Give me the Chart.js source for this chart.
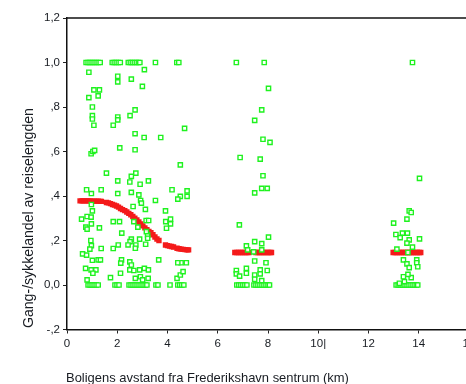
<!DOCTYPE html>
<html>
<head>
<meta charset="utf-8">
<script src="https://cdn.jsdelivr.net/npm/chart.js@4/dist/chart.umd.min.js"></script>
<style>
html,body{margin:0;padding:0;background:#fff;overflow:hidden;width:466px;height:384px;}
canvas{position:absolute;left:0;top:0;}
</style>
</head>
<body>
<canvas id="c" width="490" height="384"></canvas>
<script>
// ---- data ----
const yTickLabels = ['-,2', '0,0', ',2', ',4', ',6', ',8', '1,0', '1,2'];
const xTickLabels = ['0', '2', '4', '6', '8', '10|', '12', '14', '16'];
const xTitle = 'Boligens avstand fra Frederikshavn sentrum (km)';
const yTitle = 'Gang-/sykkelandel av reiselengden';

// observations with share = 1,0
const topRowX = [0.76,0.84,0.92,1.0,1.08,1.16,1.24,1.32,1.8,1.88,1.96,2.04,2.12,
  2.44,2.52,2.6,2.68,2.76,2.84,2.9,3.52,4.37,4.45,6.74,7.85,13.75];
// observations with share = 0,0
const zeroRowX = [0.84,0.92,1.0,1.08,1.16,1.24,1.91,1.99,2.07,2.47,2.55,2.63,2.71,2.79,
  2.87,2.95,3.03,3.11,3.18,3.54,3.62,4.1,4.41,4.49,4.57,4.65,6.76,6.84,6.92,7.0,7.08,7.16,
  7.44,7.52,7.6,7.68,7.76,7.84,7.92,8.0,8.06,13.1,13.18,13.26,13.34,13.42,13.5,13.58,
  13.66,13.74,13.82,13.9,13.96];
// other observations [km, share]
const otherObs = [
  [0.87,0.956],[2.02,0.938],[2.02,0.913],[2.56,0.925],[3.08,0.968],[3.0,0.893],[1.07,0.877],
  [1.29,0.877],[0.87,0.842],[1.24,0.85],[1.01,0.80],[2.71,0.787],[1.01,0.761],[1.01,0.746],
  [2.02,0.755],[2.02,0.742],[2.51,0.761],[1.07,0.718],[1.84,0.718],[4.68,0.704],[2.71,0.68],
  [3.07,0.663],[3.73,0.663],[2.10,0.616],[2.71,0.608],[0.96,0.59],[1.03,0.60],[1.10,0.605],
  [4.51,0.54],[1.57,0.503],[2.56,0.488],[2.74,0.503],[2.02,0.468],[2.50,0.463],[3.24,0.468],
  [2.91,0.453],[0.78,0.428],[0.97,0.411],[1.36,0.428],[2.02,0.411],[2.56,0.416],[2.86,0.405],
  [4.18,0.428],[4.51,0.398],[4.41,0.386],[4.78,0.423],[4.78,0.398],[2.93,0.38],[2.96,0.368],
  [3.52,0.38],[2.63,0.353],[0.97,0.362],[1.01,0.333],[3.92,0.333],[3.12,0.34],
  [0.58,0.296],[0.80,0.308],[0.96,0.305],[0.97,0.275],[0.75,0.26],[0.80,0.251],[1.29,0.257],
  [1.84,0.285],[2.09,0.285],[2.66,0.285],[3.15,0.29],[3.25,0.29],[3.93,0.285],[4.12,0.296],
  [4.12,0.275],[3.96,0.255],[2.82,0.26],[2.18,0.233],[3.21,0.225],[3.16,0.24],[2.56,0.206],
  [2.89,0.206],[3.21,0.21],[2.51,0.195],[2.74,0.18],[3.13,0.183],[2.72,0.165],[0.97,0.177],
  [0.91,0.161],[0.95,0.2],[1.36,0.164],[1.84,0.164],[2.04,0.18],[2.43,0.18],[0.62,0.14],
  [0.78,0.134],[1.01,0.111],[1.24,0.113],[1.33,0.113],[2.17,0.113],[2.50,0.104],[2.56,0.09],
  [2.14,0.098],[0.74,0.075],[0.96,0.068],[1.15,0.068],[1.03,0.053],[1.73,0.033],[2.13,0.053],
  [2.50,0.068],[2.66,0.065],[2.89,0.068],[3.08,0.075],[3.24,0.068],[2.92,0.037],[3.01,0.023],
  [3.23,0.03],[2.72,0.03],[3.65,0.113],[4.38,0.03],[4.51,0.045],[4.62,0.06],[4.75,0.10],
  [4.54,0.10],[4.41,0.10],[0.8,0.023],
  [8.02,0.884],[7.75,0.787],[7.47,0.74],[7.80,0.655],[8.08,0.641],[6.89,0.573],[7.69,0.566],
  [7.80,0.491],[7.75,0.434],[7.97,0.434],[7.47,0.414],[6.86,0.27],[8.02,0.215],[7.47,0.195],
  [7.75,0.186],[7.14,0.176],[7.19,0.158],[7.75,0.158],[7.43,0.149],[7.47,0.108],[7.92,0.10],
  [6.74,0.065],[6.74,0.05],[7.14,0.075],[7.14,0.053],[6.87,0.04],[7.69,0.068],[7.69,0.05],
  [7.97,0.065],[7.47,0.045],[7.47,0.026],[7.75,0.02],
  [14.03,0.479],[13.62,0.333],[13.70,0.326],[13.53,0.296],[13.0,0.278],[13.09,0.227],
  [13.35,0.233],[13.55,0.233],[13.26,0.213],[14.03,0.207],[13.62,0.203],[13.53,0.188],
  [13.75,0.17],[13.13,0.161],[13.57,0.146],[13.39,0.113],[13.92,0.113],[13.53,0.095],
  [13.92,0.10],[13.96,0.082],[13.62,0.078],[13.39,0.037],[13.70,0.033],[13.57,0.048],
  [13.43,0.015],[13.23,0.008]
];
// fitted (smoothed) values
const fitX = [0.52,0.6,0.68,0.76,0.84,0.92,1.0,1.08,1.16,1.24,1.32,1.37,
  1.57,1.65,1.73,1.81,1.89,1.97,2.05,2.13,2.21,2.3,2.38,2.46,2.54,2.62,2.7,2.78,2.86,2.94,
  3.02,3.1,3.18,3.26,3.34,3.42,3.5,3.58,3.66,3.92,4.0,4.08,4.16,4.24,4.38,4.46,4.54,4.62,
  4.7,4.78,4.84,
  6.68,6.76,6.84,6.92,7.0,7.08,7.16,7.24,7.52,7.6,7.68,7.76,7.84,7.92,8.0,8.08,8.14,
  12.98,13.06,13.14,13.22,13.3,13.38,13.46,13.54,13.62,13.7,13.78,13.86,13.94,14.02,14.08];
const fitY = [0.378,0.378,0.378,0.378,0.378,0.378,0.377,0.377,0.377,0.377,0.376,0.376,
  0.371,0.369,0.366,0.362,0.359,0.355,0.35,0.344,0.339,0.334,0.328,0.322,0.316,0.308,0.3,
  0.292,0.283,0.275,0.266,0.257,0.249,0.241,0.235,0.226,0.216,0.207,0.2,0.18,0.177,0.175,
  0.173,0.171,0.165,0.163,0.161,0.16,0.159,0.158,0.158,
  0.146,0.146,0.146,0.146,0.146,0.146,0.146,0.146,0.146,0.146,0.146,0.146,0.146,0.146,0.146,0.146,0.146,
  0.146,0.146,0.146,0.146,0.146,0.146,0.146,0.146,0.146,0.146,0.146,0.146,0.146,0.146,0.146];

// ---- build datasets ----
const obsData = []
  .concat(topRowX.map(x => ({x: x, y: 1.0})))
  .concat(zeroRowX.map(x => ({x: x, y: 0.0})))
  .concat(otherObs.map(p => ({x: p[0], y: p[1]})));
const fitData = fitX.map((x, i) => ({x: x, y: fitY[i]}));

const TEXT = '#181c22';
const FONT = '"Liberation Sans", Arial, sans-serif';

function fitFont(ctx, text, target) {
  ctx.font = '12px ' + FONT;
  const w = ctx.measureText(text).width;
  const size = 12 * target / w;
  ctx.font = size.toFixed(2) + 'px ' + FONT;
}

const decor = {
  id: 'decor',
  afterDraw(chart) {
    const ctx = chart.ctx, a = chart.chartArea;
    ctx.save();
    ctx.strokeStyle = '#111';
    ctx.lineWidth = 1.5;
    ctx.beginPath();
    ctx.moveTo(a.left, a.top);
    ctx.lineTo(a.right, a.top);
    ctx.stroke();
    ctx.fillStyle = TEXT;
    ctx.textAlign = 'left';
    ctx.textBaseline = 'alphabetic';
    fitFont(ctx, xTitle, 283);
    ctx.fillText(xTitle, 66, 382);
    fitFont(ctx, yTitle, 220);
    ctx.translate(33, 328);
    ctx.rotate(-Math.PI / 2);
    ctx.fillText(yTitle, 0, 0);
    ctx.restore();
  }
};

new Chart(document.getElementById('c'), {
  type: 'scatter',
  data: {
    datasets: [
      {
        label: 'obs',
        data: obsData,
        order: 0,
        pointStyle: 'rect',
        pointRadius: 3.0,
        pointBorderWidth: 1.4,
        borderColor: '#1ff21f',
        backgroundColor: 'rgba(255,255,255,0.9)'
      },
      {
        label: 'fit',
        data: fitData,
        order: 1,
        pointStyle: 'rect',
        pointRadius: 3.8,
        pointBorderWidth: 0,
        borderColor: '#f41a1a',
        backgroundColor: '#f41a1a'
      }
    ]
  },
  options: {
    responsive: false,
    animation: false,
    devicePixelRatio: 1,
    layout: { padding: { top: 18, right: 21, left: 0, bottom: 0 } },
    plugins: { legend: { display: false }, tooltip: { enabled: false } },
    scales: {
      x: {
        type: 'linear',
        min: 0, max: 16,
        afterFit: s => { s.height = 54.5; },
        ticks: {
          stepSize: 2,
          padding: 3,
          color: TEXT,
          font: { family: FONT, size: 11.5 },
          maxRotation: 0,
          callback: v => xTickLabels[Math.round(v / 2)]
        },
        grid: { drawOnChartArea: false, drawTicks: true, tickLength: 4, color: '#222' },
        border: { display: true, color: '#111', width: 1.5 }
      },
      y: {
        type: 'linear',
        min: -0.2, max: 1.2,
        afterFit: s => { s.width = 67; },
        ticks: {
          stepSize: 0.2,
          padding: 3,
          color: TEXT,
          font: { family: FONT, size: 11.5 },
          callback: v => yTickLabels[Math.round((v + 0.2) / 0.2)]
        },
        grid: { drawOnChartArea: false, drawTicks: true, tickLength: 4, color: '#222' },
        border: { display: true, color: '#111', width: 1.5 }
      }
    }
  },
  plugins: [decor]
});
</script>
</body>
</html>
